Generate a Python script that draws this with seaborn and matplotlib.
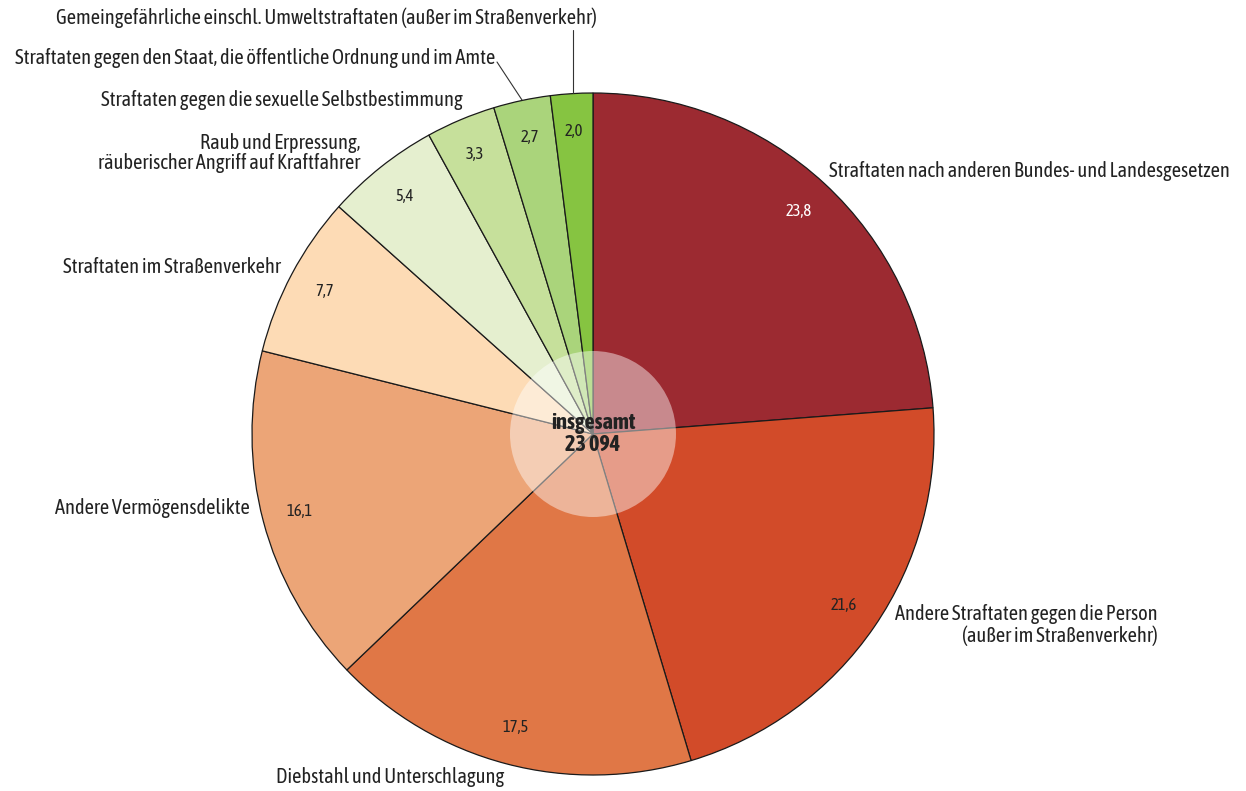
import numpy as np
import matplotlib
matplotlib.use("Agg")
import matplotlib.pyplot as plt
from matplotlib import font_manager
import seaborn as sns

categories = [
    "Straftaten nach anderen Bundes- und Landesgesetzen",
    "Andere Straftaten gegen die Person\n(außer im Straßenverkehr)",
    "Diebstahl und Unterschlagung",
    "Andere Vermögensdelikte",
    "Straftaten im Straßenverkehr",
    "Raub und Erpressung,\nräuberischer Angriff auf Kraftfahrer",
    "Straftaten gegen die sexuelle Selbstbestimmung",
    "Straftaten gegen den Staat, die öffentliche Ordnung und im Amte",
    "Gemeingefährliche einschl. Umweltstraftaten (außer im Straßenverkehr)",
]
shares = [23.8, 21.6, 17.5, 16.1, 7.7, 5.4, 3.3, 2.7, 2.0]
value_labels = ["23,8", "21,6", "17,5", "16,1", "7,7", "5,4", "3,3", "2,7", "2,0"]
total_label = "insgesamt\n23 094"

colors = ["#9c2a31", "#d24b29", "#e07746", "#eca577", "#fddbb5",
          "#e5efcf", "#c6e09b", "#aad47b", "#86c441"]

sns.set_theme(style="white")

# look for a condensed face (prefer one that also has a bold cut)
fonts = font_manager.fontManager.ttflist
narrow = sorted({f.name for f in fonts if "Condensed" in f.name or "Narrow" in f.name})
bold_ok = [n for n in narrow
           if any(f.name == n and f.weight in ("bold", 700, "heavy", 800) for f in fonts)]
if narrow:
    family = (bold_ok or narrow)[0]
    size, vsize, csize = 14.7, 12, 16
    bold_family = family if bold_ok else "Liberation Sans"
else:
    family = bold_family = "Liberation Sans"
    size, vsize, csize = 12.3, 9.5, 13
plt.rcParams["font.family"] = [family, "DejaVu Sans"]

W, H = 1246, 791
fig = plt.figure(figsize=(W / 100, H / 100), dpi=100)
ax = fig.add_axes([0, 0, 1, 1])

cx, cy, r = 593, H - 434, 341

wedges, _ = ax.pie(shares, colors=colors, startangle=90, counterclock=False,
                   center=(cx, cy), radius=r, frame=True,
                   wedgeprops=dict(edgecolor="#1a1a1a", linewidth=0.9))
ax.set_xlim(0, W)
ax.set_ylim(0, H)
ax.set_aspect("equal")
ax.axis("off")

# value labels inside the wedges
for i, w in enumerate(wedges):
    ang = np.deg2rad((w.theta1 + w.theta2) / 2)
    d = 0.89 * r
    ax.text(cx + d * np.cos(ang), cy + d * np.sin(ang), value_labels[i],
            ha="center", va="center", fontsize=vsize,
            color="white" if i == 0 else "#222222")

# category labels (pixel positions from the reference layout)
label_pos = [
    (829, 171, "left"),
    (1158, 625, "right"),
    (390, 777, "center"),
    (250, 508, "right"),
    (281, 267, "right"),
    (360, 153, "right"),
    (463, 100, "right"),
    (495, 58, "right"),
    (597, 18, "right"),
]
for name, (px, py, ha) in zip(categories, label_pos):
    ax.text(px, H - py, name, ha=ha, va="center", fontsize=size,
            color="#222222", multialignment=ha, linespacing=1.05)

# leader lines for the two smallest slices
ax.plot([497, 522], [H - 62, H - 100], color="#333333", lw=0.8)
ax.plot([573, 573], [H - 30, H - 93], color="#333333", lw=0.8)

# translucent centre disc with the total
ax.add_patch(plt.Circle((cx, cy), 83, facecolor="white", alpha=0.45,
                        edgecolor="none", zorder=5))
ax.text(cx, cy, total_label, ha="center", va="center", fontsize=csize,
        fontweight="bold", family=[bold_family, "DejaVu Sans"],
        color="#222222", linespacing=1.0, zorder=6)

fig.savefig("out.png", dpi=100)
